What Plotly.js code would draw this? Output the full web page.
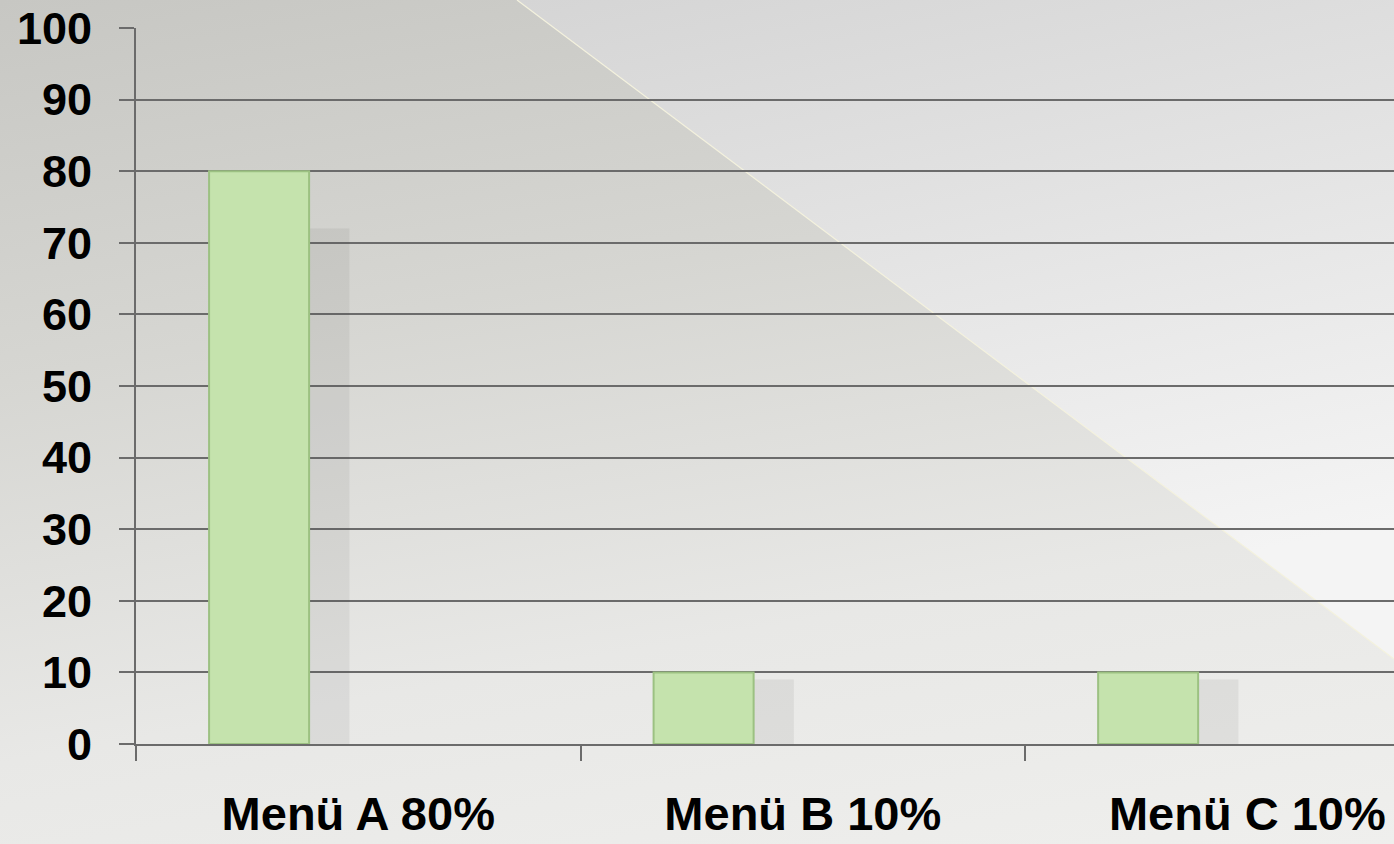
<!DOCTYPE html>
<html>
<head>
<meta charset="utf-8">
<script src="https://cdn.plot.ly/plotly-3.0.1.min.js"></script>
<style>
  html, body { margin: 0; padding: 0; }
  body { width: 1394px; height: 844px; overflow: hidden; position: relative;
         background: linear-gradient(170deg, #c7c7c3 0%, #d6d6d2 35%, #e8e8e6 70%, #efefed 100%); }
  #bg { position: absolute; left: 0; top: 0; }
  #chart { position: absolute; left: 0; top: 0; width: 1394px; height: 844px; }
</style>
</head>
<body>
<svg id="bg" width="1394" height="844">
  <defs>
    <linearGradient id="tri" x1="0" y1="0" x2="0.3" y2="1">
      <stop offset="0" stop-color="#d5d5d5"/>
      <stop offset="1" stop-color="#f4f4f4"/>
    </linearGradient>
  </defs>
  <polygon points="517,0 1394,0 1394,659" fill="url(#tri)"/>
  <line x1="517" y1="0" x2="1394" y2="659" stroke="#f4f2de" stroke-width="1.2"/>
</svg>
<div id="chart"></div>
<script>
const categories = ["Menü A 80%", "Menü B 10%", "Menü C 10%"];
const values = [80, 10, 10];
const yTicks = [0, 10, 20, 30, 40, 50, 60, 70, 80, 90, 100];

const axisColor = "#6b6b6b";
const fontFamily = "Liberation Sans, Arial, sans-serif";

const shadow = {
  type: "bar", x: categories, y: values.map(v => v * 0.9),
  offset: -0.26, width: 0.24,
  marker: { color: "rgba(60,60,60,0.08)", line: { width: 0 } },
  hoverinfo: "skip", showlegend: false
};
const bars = {
  type: "bar", x: categories, y: values,
  offset: -0.3356, width: 0.225,
  marker: { color: "#c5e3ad", line: { color: "#9cc182", width: 2 } },
  showlegend: false
};

const layout = {
  width: 1394, height: 844,
  margin: { l: 136, r: 0, t: 28, b: 100, pad: 0 },
  paper_bgcolor: "rgba(0,0,0,0)",
  plot_bgcolor: "rgba(0,0,0,0)",
  barmode: "overlay",
  showlegend: false,
  xaxis: {
    type: "category",
    range: [-0.5, 2.33],
    tickson: "boundaries",
    ticks: "outside", ticklen: 15, tickwidth: 2, tickcolor: axisColor,
    showline: true, linecolor: axisColor, linewidth: 2,
    showgrid: false, zeroline: false,
    tickfont: { family: fontFamily, size: 47, color: "#000000", weight: 700 },
    ticklabelstandoff: 28
  },
  yaxis: {
    range: [0, 100],
    tickvals: yTicks,
    ticktext: yTicks.map(String),
    ticks: "outside", ticklen: 15, tickwidth: 2, tickcolor: axisColor,
    showline: true, linecolor: axisColor, linewidth: 2,
    showgrid: true, gridcolor: axisColor, gridwidth: 2,
    zeroline: false,
    tickfont: { family: fontFamily, size: 45, color: "#000000", weight: 700 },
    ticklabelstandoff: 18
  }
};

Plotly.newPlot("chart", [shadow, bars], layout, { staticPlot: true, displayModeBar: false });
</script>
</body>
</html>
